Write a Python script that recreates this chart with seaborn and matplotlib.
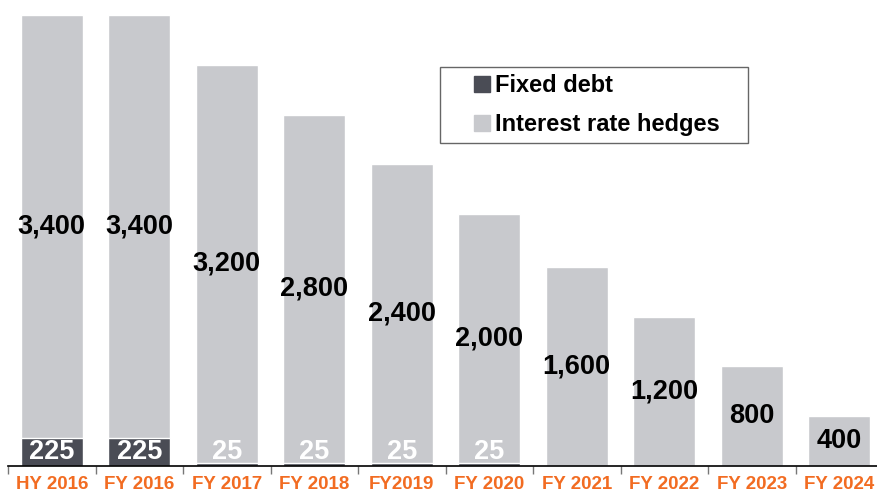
import matplotlib
matplotlib.use("Agg")
import matplotlib.pyplot as plt
import seaborn as sns
import pandas as pd
import numpy as np
from matplotlib.lines import Line2D
from matplotlib.patches import Rectangle

categories = ["HY 2016", "FY 2016", "FY 2017", "FY 2018", "FY2019",
              "FY 2020", "FY 2021", "FY 2022", "FY 2023", "FY 2024"]
fixed_debt = [225, 225, 25, 25, 25, 25, 0, 0, 0, 0]
hedges = [3400, 3400, 3200, 2800, 2400, 2000, 1600, 1200, 800, 400]

DARK = "#4a4c55"
LIGHT = "#c8c9cd"
ORANGE = "#f26c22"

sns.set_theme(style="white")
plt.rcParams["font.family"] = ["Liberation Sans", "DejaVu Sans"]
plt.rcParams["font.weight"] = "bold"

df = pd.DataFrame({"cat": categories, "fixed": fixed_debt, "hedges": hedges})
df["total"] = df["fixed"] + df["hedges"]

W, H = 877, 494
fig = plt.figure(figsize=(W / 100, H / 100), dpi=100)
ax = fig.add_axes([8 / W, 28 / H, 1 - 8 / W, 466 / H])

sns.barplot(data=df, x="cat", y="total", color=LIGHT, width=0.71,
            saturation=1, ax=ax, order=categories)
sns.barplot(data=df, x="cat", y="fixed", color=DARK, width=0.71,
            saturation=1, ax=ax, order=categories)

ymax = 3625 * 466 / 451
ax.set_ylim(0, ymax)
ax.set_xlim(-0.5, -0.5 + 869 / 87.5)

for i, (f, h) in enumerate(zip(fixed_debt, hedges)):
    ax.text(i, f + h / 2, f"{h:,}", ha="center", va="center",
            fontsize=19.5, fontweight="bold", color="black")
    if f > 0:
        ax.text(i, 112, f"{f:,}", ha="center", va="center",
                fontsize=19.5, fontweight="bold", color="white")

for s in ["top", "right", "left"]:
    ax.spines[s].set_visible(False)
ax.spines["bottom"].set_color("black")
ax.spines["bottom"].set_linewidth(1.2)
ax.set_yticks([])
ax.set_xlabel("")
ax.set_ylabel("")
ax.set_xticks(range(len(categories)))
ax.set_xticklabels(categories, fontsize=13.5, fontweight="bold", color=ORANGE)
ax.tick_params(axis="x", which="major", length=0, pad=7.5)
ax.set_xticks(np.arange(len(categories)) - 0.5, minor=True)
ax.tick_params(axis="x", which="minor", length=6, width=1, color="#777777",
               direction="out", bottom=True)

# legend frame
fig.add_artist(Rectangle((440 / W, 1 - 143 / H), 308 / W, 76 / H,
                         transform=fig.transFigure, fill=True,
                         facecolor="white", edgecolor="#666666", lw=1.0,
                         zorder=5))

handles = [Line2D([], [], marker="s", linestyle="none", markersize=11,
                  markerfacecolor=DARK, markeredgecolor=DARK),
           Line2D([], [], marker="s", linestyle="none", markersize=11,
                  markerfacecolor=LIGHT, markeredgecolor=LIGHT)]
leg = fig.legend(handles, ["Fixed debt", "Interest rate hedges"],
                 loc="center left", bbox_to_anchor=(476 / W, 1 - 105 / H),
                 frameon=False, prop={"size": 17, "weight": "bold"},
                 handlelength=0.5, handletextpad=0.3, borderpad=0,
                 labelspacing=0.68, borderaxespad=0)
leg.set_zorder(6)
for t in leg.get_texts():
    t.set_color("black")

fig.savefig("out.png", dpi=100)
